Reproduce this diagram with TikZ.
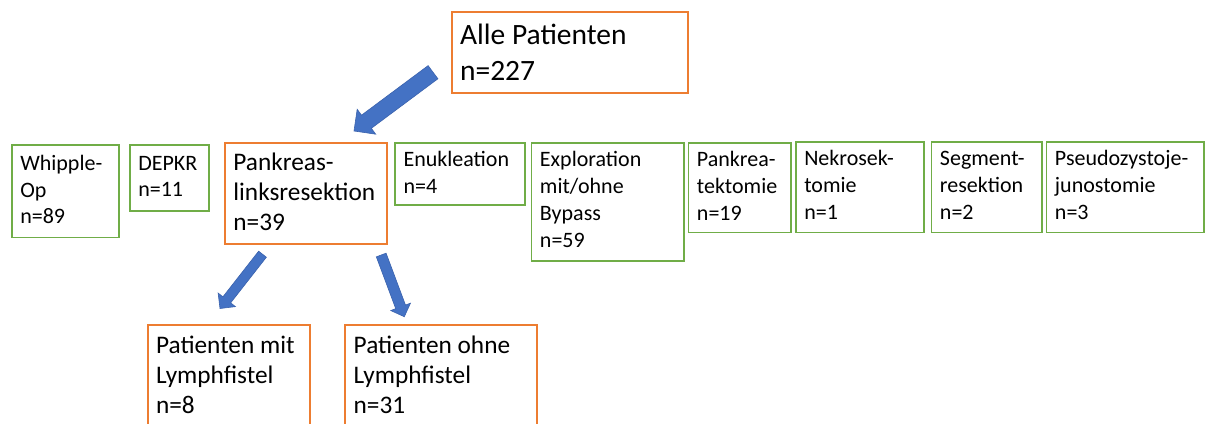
\documentclass[tikz,border=0pt]{standalone}
\usepackage{fontspec}
\setmainfont{Carlito}
\usetikzlibrary{calc}
\definecolor{boxorange}{HTML}{ED7D31}
\definecolor{boxgreen}{HTML}{70AD47}
\definecolor{arrowblue}{HTML}{4472C4}
\definecolor{arrowline}{HTML}{3A62AD}
% #1 width, #2 height, #3 first baseline, #4 font size, #5 baselineskip, #6 text
\newcommand\tb[6]{\parbox[t][#2pt][t]{\dimexpr#1pt-17pt\relax}{\fontsize{#4pt}{#5pt}\selectfont\raggedright\rule{0pt}{#3pt}#6}}
\newcommand\sm[4]{\tb{#1}{#2}{#3}{22}{26.8}{#4}}
\newcommand\md[4]{\tb{#1}{#2}{#3}{25.3}{30}{#4}}
% block arrow: #1 tail, #2 tip, #3 shaft half width, #4 head half width, #5 head length (pt)
\newcommand\blockarrow[5]{%
  \coordinate (bb) at ($(#2)!#5pt!(#1)$);
  \filldraw[barrow] ($(#1)!#3pt!90:(#2)$) -- ($(bb)!#3pt!90:(#2)$) -- ($(bb)!#4pt!90:(#2)$) -- (#2)
    -- ($(bb)!#4pt!-90:(#2)$) -- ($(bb)!#3pt!-90:(#2)$) -- ($(#1)!#3pt!-90:(#2)$) -- cycle;}
\tikzset{
  box/.style={draw, rectangle, anchor=north west, inner xsep=8.5pt, inner ysep=0pt, text=black},
  gbox/.style={box, draw=boxgreen, line width=1.5pt},
  obox/.style={box, draw=boxorange, line width=1.8pt},
  barrow/.style={fill=arrowblue, draw=arrowline, line width=0.6pt, line join=miter},
}
\begin{document}
\begin{tikzpicture}[x=1pt, y=-1pt]
\useasboundingbox (0,0) rectangle (1207,423);
\clip (0,0) rectangle (1207,423);
\fill[white] (0,0) rectangle (1207,423);

\node[obox] (alle) at (450.7,10.7) {\tb{236}{81}{32.6}{29.5}{36}{Alle Patienten\\n=227}};

\node[gbox] (whip) at (11,144.3) {\sm{107.3}{92.4}{25.2}{Whipple-\\Op\\n=89}};
\node[gbox] (depkr) at (129,144.3) {\sm{79}{65.7}{25}{DEPKR\\n=11}};
\node[obox] (pank) at (224,141.7) {\md{161.7}{101}{28.3}{Pankreas-\\linksresektion\\n=39}};
\node[gbox] (enuk) at (394.3,142.3) {\sm{130}{62}{23.8}{Enukleation\\n=4}};
\node[gbox] (expl) at (530.7,142.3) {\sm{152.6}{117.7}{23.8}{Exploration\\mit/ohne\\Bypass\\n=59}};
\node[gbox] (pankrea) at (687.7,142.3) {\sm{102.3}{89.4}{23.8}{Pankrea-\\tektomie\\n=19}};
\node[gbox] (nekro) at (795,141) {\sm{128.3}{90.7}{24}{Nekrosek-\\tomie\\n=1}};
\node[gbox] (segm) at (930.7,141) {\sm{110.3}{90.7}{24}{Segment-\\resektion\\n=2}};
\node[gbox] (pseudo) at (1045.7,141) {\sm{157.5}{90.7}{24}{Pseudozystoje-\\junostomie\\n=3}};

\node[obox] (mit) at (146.7,324) {\md{162.3}{120}{28.7}{Patienten mit\\Lymphfistel\\n=8}};
\node[obox] (ohne) at (344.3,324) {\md{191.4}{120}{28.7}{Patienten ohne\\Lymphfistel\\n=31}};

\coordinate (a1t) at (433,72.2);
\coordinate (a1h) at (354,131);
\coordinate (a2t) at (262.5,254.2);
\coordinate (a2h) at (220,308.5);
\coordinate (a3t) at (381.2,255);
\coordinate (a3h) at (404.3,316.7);
\blockarrow{a1t}{a1h}{8.2}{15.5}{15.5}
\blockarrow{a2t}{a2h}{4.9}{11}{11}
\blockarrow{a3t}{a3h}{5.2}{10.5}{10.5}
\end{tikzpicture}
\end{document}
